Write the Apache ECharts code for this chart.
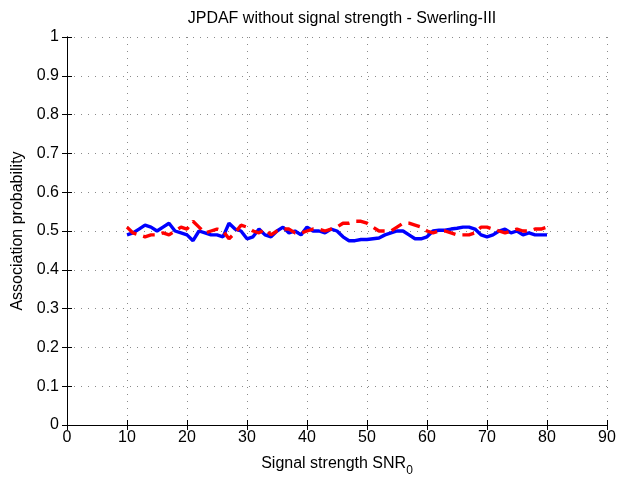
<!DOCTYPE html>
<html>
<head>
<meta charset="utf-8">
<script src="https://cdn.jsdelivr.net/npm/echarts@6/dist/echarts.min.js"></script>
<style>html,body{margin:0;padding:0;background:#fff;}#c{width:632px;height:477px;}</style>
</head>
<body>
<div id="c"></div>
<script>
const snr = [];
for (let v = 10; v <= 80; v++) snr.push(v);
const blueVals = [0.49,0.495,0.505,0.515,0.51,0.5,0.51,0.52,0.5,0.495,0.49,0.475,0.5,0.495,0.49,0.49,0.485,0.52,0.505,0.5,0.48,0.485,0.505,0.49,0.485,0.5,0.51,0.495,0.5,0.49,0.51,0.5,0.5,0.495,0.505,0.5,0.485,0.475,0.475,0.478,0.478,0.48,0.482,0.49,0.495,0.5,0.5,0.49,0.48,0.48,0.485,0.5,0.502,0.502,0.505,0.507,0.51,0.51,0.505,0.49,0.485,0.49,0.5,0.505,0.495,0.5,0.49,0.495,0.49,0.49,0.49];
const redVals = [0.51,0.495,0.49,0.485,0.49,0.49,0.495,0.49,0.5,0.51,0.505,0.525,0.51,0.495,0.5,0.505,0.5,0.48,0.495,0.515,0.51,0.5,0.495,0.505,0.49,0.5,0.505,0.505,0.495,0.495,0.5,0.505,0.505,0.5,0.505,0.51,0.52,0.52,0.525,0.525,0.52,0.51,0.5,0.5,0.5,0.51,0.52,0.52,0.515,0.51,0.5,0.495,0.5,0.5,0.495,0.49,0.49,0.49,0.495,0.51,0.51,0.505,0.5,0.495,0.5,0.505,0.5,0.5,0.505,0.505,0.51];
const xTicks = [0,10,20,30,40,50,60,70,80,90];
const yTicks = [0,0.1,0.2,0.3,0.4,0.5,0.6,0.7,0.8,0.9,1];
const titleText = 'JPDAF without signal strength - Swerling-III';
const xName = 'Signal strength SNR';
const xSub = '0';
const yName = 'Association probability';

const FONT = '"Liberation Sans", Arial, sans-serif';
const chart = echarts.init(document.getElementById('c'), null, {renderer: 'canvas'});
const grid = {left: 67, right: 25, top: 37, bottom: 52, containLabel: false, outerBoundsMode: 'none'};
const fmtY = v => (Math.round(v * 10) / 10).toString();
const gridDots = {show: true, lineStyle: {color: '#8a8a8a', type: [1, 6], width: 1}};
chart.setOption({
  animation: false,
  backgroundColor: '#fff',
  title: {
    text: titleText, left: 337, top: 6, textAlign: 'center',
    textStyle: {fontFamily: FONT, fontSize: 16, fontWeight: 'normal', color: '#000'}
  },
  grid: grid,
  xAxis: [{
    type: 'value', min: 0, max: 90, interval: 10, position: 'bottom',
    name: xName + '{sub|' + xSub + '}', nameLocation: 'middle', nameGap: 26,
    nameTextStyle: {fontFamily: FONT, fontSize: 16, color: '#000',
      rich: {sub: {fontFamily: FONT, fontSize: 12, color: '#000', padding: [14, 0, 0, 0]}}},
    axisLine: {show: true, lineStyle: {color: '#000', width: 1}},
    axisTick: {show: true, inside: true, length: 5, lineStyle: {color: '#000'}},
    axisLabel: {fontFamily: FONT, fontSize: 16, color: '#000', margin: 5},
    splitLine: gridDots
  }, {
    type: 'value', min: 0, max: 90, interval: 10, position: 'top',
    axisLine: {show: true, lineStyle: {color: '#000', width: 1}},
    axisTick: {show: true, inside: true, length: 5, lineStyle: {color: '#000'}},
    axisLabel: {show: false}, splitLine: {show: false}
  }],
  yAxis: [{
    type: 'value', min: 0, max: 1, interval: 0.1, position: 'left',
    name: yName, nameLocation: 'middle', nameGap: 34,
    nameTextStyle: {fontFamily: FONT, fontSize: 16, color: '#000'},
    axisLine: {show: true, lineStyle: {color: '#000', width: 1}},
    axisTick: {show: true, inside: true, length: 5, lineStyle: {color: '#000'}},
    axisLabel: {fontFamily: FONT, fontSize: 16, color: '#000', margin: 8, formatter: fmtY},
    splitLine: gridDots
  }, {
    type: 'value', min: 0, max: 1, interval: 0.1, position: 'right',
    axisLine: {show: true, lineStyle: {color: '#000', width: 1}},
    axisTick: {show: true, inside: true, length: 5, lineStyle: {color: '#000'}},
    axisLabel: {show: false}, splitLine: {show: false}
  }],
  series: [{
    type: 'line', name: 'blue', showSymbol: false, symbol: 'none',
    data: snr.map((x, i) => [x, blueVals[i]]),
    lineStyle: {color: '#0000ff', width: 3.4}
  }, {
    type: 'line', name: 'red', showSymbol: false, symbol: 'none',
    data: snr.map((x, i) => [x, redVals[i]]),
    lineStyle: {color: '#ff0000', width: 3.4, type: [12, 7]}
  }]
});
</script>
</body>
</html>
